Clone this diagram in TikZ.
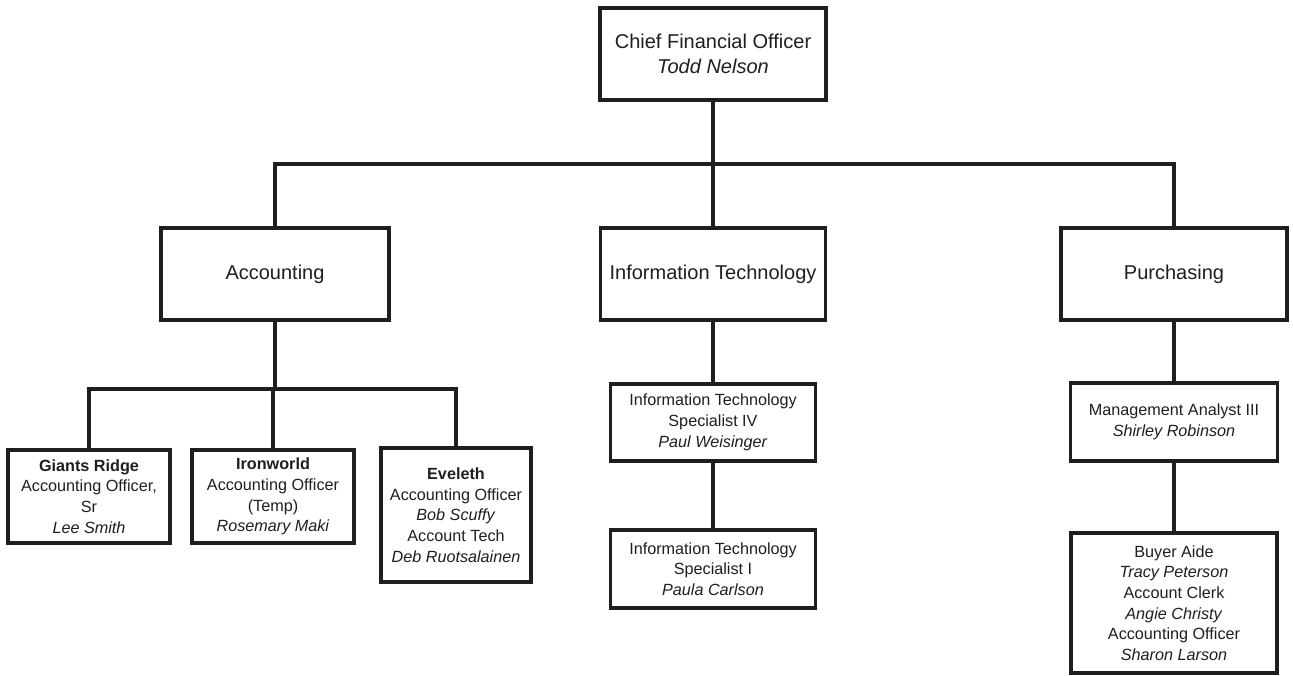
\documentclass[tikz,border=0pt]{standalone}
\usepackage{fontspec}
\setmainfont{Liberation Sans}
\begin{document}
\begin{tikzpicture}[x=1pt,y=-1pt]
\tikzset{
  box/.style={draw=black!88, line width=3.4pt, inner sep=0pt, align=center, text=black!88, fill=white},
  big/.style={box, font=\fontsize{20}{24.5}\selectfont},
  small/.style={box, font=\fontsize{16.2}{20.7}\selectfont},
  conn/.style={draw=black!88, line width=3.4pt},
}
\useasboundingbox (0,0) rectangle (1293,676);

% top level
\node[big, minimum width=226pt, minimum height=92pt] (cfo) at (713,54)
  {Chief Financial Officer\\\textit{Todd Nelson}};

% departments
\node[big, minimum width=228pt, minimum height=92pt] (acc) at (275,274) {Accounting};
\node[big, minimum width=225pt, minimum height=92pt] (it) at (713,274) {Information Technology};
\node[big, minimum width=226pt, minimum height=92pt] (pur) at (1174,274) {Purchasing};

% accounting offices
\node[small, minimum width=162pt, minimum height=93pt] (gr) at (89,496.5)
  {\textbf{Giants Ridge}\\Accounting Officer,\\Sr\\\textit{Lee Smith}};
\node[small, minimum width=162pt, minimum height=93pt] (iw) at (273,496.5)
  {\textbf{Ironworld}\\Accounting Officer\\(Temp)\\\textit{Rosemary Maki}};
\node[small, minimum width=150pt, minimum height=134pt] (ev) at (456,515)
  {\textbf{Eveleth}\\Accounting Officer\\\textit{Bob Scuffy}\\Account Tech\\\textit{Deb Ruotsalainen}};

% information technology staff
\node[small, minimum width=205pt, minimum height=77pt] (it4) at (713,422.5)
  {Information Technology\\Specialist IV\\\textit{Paul Weisinger}};
\node[small, minimum width=205pt, minimum height=78pt] (it1) at (713,569)
  {Information Technology\\Specialist I\\\textit{Paula Carlson}};

% purchasing staff
\node[small, minimum width=207pt, minimum height=78pt] (ma) at (1174,422)
  {Management Analyst III\\\textit{Shirley Robinson}};
\node[small, minimum width=206pt, minimum height=140pt] (ba) at (1174,603)
  {Buyer Aide\\\textit{Tracy Peterson}\\Account Clerk\\\textit{Angie Christy}\\Accounting Officer\\\textit{Sharon Larson}};

% bus lines
\coordinate (bus1) at (713,164);
\coordinate (bus2) at (275,389);

\draw[conn] (cfo.south) -- (it.north);
\draw[conn] (acc.north) |- (bus1) -| (pur.north);

\draw[conn] (acc.south) -- (bus2);
\draw[conn] (gr.north) |- (bus2) -| (ev.north);
\draw[conn] (iw.north) -- (iw.north |- bus2);

\draw[conn] (it.south) -- (it4.north);
\draw[conn] (it4.south) -- (it1.north);

\draw[conn] (pur.south) -- (ma.north);
\draw[conn] (ma.south) -- (ba.north);
\end{tikzpicture}
\end{document}
